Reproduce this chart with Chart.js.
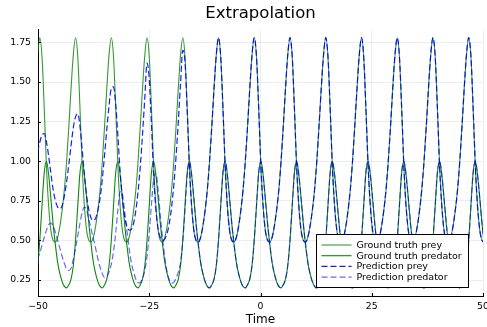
<!DOCTYPE html>
<html lang="en">
<head>
<meta charset="UTF-8">
<title>Extrapolation</title>
<script src="https://cdn.jsdelivr.net/npm/chart.js@4"></script>
<style>
  html, body { margin: 0; padding: 0; background: #fff; }
  #wrap { width: 487px; height: 327px; position: relative; }
</style>
</head>
<body>
<div id="wrap"><canvas id="chart"></canvas></div>
<script>
// time grid (one row = one cycle, 16 samples)
const time = [
  -50.10, -49.60, -49.10, -48.59, -48.09, -47.59, -47.09, -46.59, -46.08, -45.58, -45.08, -44.58, -44.08, -43.57, -43.07, -42.57,
  -42.07, -41.57, -41.06, -40.56, -40.06, -39.56, -39.06, -38.55, -38.05, -37.55, -37.05, -36.55, -36.04, -35.54, -35.04, -34.54,
  -34.04, -33.53, -33.03, -32.53, -32.03, -31.53, -31.02, -30.52, -30.02, -29.52, -29.02, -28.51, -28.01, -27.51, -27.01, -26.51,
  -26.00, -25.50, -25.00, -24.50, -24.00, -23.49, -22.99, -22.49, -21.99, -21.49, -20.98, -20.48, -19.98, -19.48, -18.98, -18.47,
  -17.97, -17.47, -16.97, -16.47, -15.96, -15.46, -14.96, -14.46, -13.96, -13.45, -12.95, -12.45, -11.95, -11.45, -10.94, -10.44,
  -9.94, -9.44, -8.94, -8.43, -7.93, -7.43, -6.93, -6.43, -5.92, -5.42, -4.92, -4.42, -3.92, -3.41, -2.91, -2.41,
  -1.91, -1.41, -0.90, -0.40, 0.10, 0.60, 1.10, 1.61, 2.11, 2.61, 3.11, 3.61, 4.12, 4.62, 5.12, 5.62,
  6.12, 6.63, 7.13, 7.63, 8.13, 8.63, 9.14, 9.64, 10.14, 10.64, 11.14, 11.65, 12.15, 12.65, 13.15, 13.65,
  14.16, 14.66, 15.16, 15.66, 16.16, 16.67, 17.17, 17.67, 18.17, 18.67, 19.18, 19.68, 20.18, 20.68, 21.18, 21.69,
  22.19, 22.69, 23.19, 23.69, 24.20, 24.70, 25.20, 25.70, 26.20, 26.71, 27.21, 27.71, 28.21, 28.71, 29.22, 29.72,
  30.22, 30.72, 31.22, 31.73, 32.23, 32.73, 33.23, 33.73, 34.24, 34.74, 35.24, 35.74, 36.24, 36.75, 37.25, 37.75,
  38.25, 38.75, 39.26, 39.76, 40.26, 40.76, 41.26, 41.77, 42.27, 42.77, 43.27, 43.77, 44.28, 44.78, 45.28, 45.78,
  46.28, 46.79, 47.29, 47.79, 48.29, 48.79, 49.30, 49.80, 50.30
];

const truePrey = [
  1.67, 1.78, 1.66, 1.33, 0.96, 0.71, 0.56, 0.50, 0.49, 0.52, 0.59, 0.69, 0.82, 1.00, 1.22, 1.46,
  1.67, 1.78, 1.66, 1.33, 0.96, 0.71, 0.56, 0.50, 0.49, 0.52, 0.59, 0.69, 0.82, 1.00, 1.22, 1.46,
  1.67, 1.78, 1.66, 1.33, 0.96, 0.71, 0.56, 0.50, 0.49, 0.52, 0.59, 0.69, 0.82, 1.00, 1.22, 1.46,
  1.67, 1.78, 1.66, 1.33, 0.96, 0.71, 0.56, 0.50, 0.49, 0.52, 0.59, 0.69, 0.82, 1.00, 1.22, 1.46,
  1.67, 1.78, 1.66, 1.33, 0.96, 0.71, 0.56, 0.50, 0.49, 0.52, 0.59, 0.69, 0.82, 1.00, 1.22, 1.46,
  1.67, 1.78, 1.66, 1.33, 0.96, 0.71, 0.56, 0.50, 0.49, 0.52, 0.59, 0.69, 0.82, 1.00, 1.22, 1.46,
  1.67, 1.78, 1.66, 1.33, 0.96, 0.71, 0.56, 0.50, 0.49, 0.52, 0.59, 0.69, 0.82, 1.00, 1.22, 1.46,
  1.67, 1.78, 1.66, 1.33, 0.96, 0.71, 0.56, 0.50, 0.49, 0.52, 0.59, 0.69, 0.82, 1.00, 1.22, 1.46,
  1.67, 1.78, 1.66, 1.33, 0.96, 0.71, 0.56, 0.50, 0.49, 0.52, 0.59, 0.69, 0.82, 1.00, 1.22, 1.46,
  1.67, 1.78, 1.66, 1.33, 0.96, 0.71, 0.56, 0.50, 0.49, 0.52, 0.59, 0.69, 0.82, 1.00, 1.22, 1.46,
  1.67, 1.78, 1.66, 1.33, 0.96, 0.71, 0.56, 0.50, 0.49, 0.52, 0.59, 0.69, 0.82, 1.00, 1.22, 1.46,
  1.67, 1.78, 1.66, 1.33, 0.96, 0.71, 0.56, 0.50, 0.49, 0.52, 0.59, 0.69, 0.82, 1.00, 1.22, 1.46,
  1.67, 1.78, 1.66, 1.33, 0.96, 0.71, 0.56, 0.50, 0.49
];

const truePredator = [
  0.34, 0.50, 0.72, 0.93, 1.00, 0.91, 0.76, 0.60, 0.47, 0.36, 0.29, 0.24, 0.21, 0.20, 0.22, 0.255,
  0.34, 0.50, 0.72, 0.93, 1.00, 0.91, 0.76, 0.60, 0.47, 0.36, 0.29, 0.24, 0.21, 0.20, 0.22, 0.255,
  0.34, 0.50, 0.72, 0.93, 1.00, 0.91, 0.76, 0.60, 0.47, 0.36, 0.29, 0.24, 0.21, 0.20, 0.22, 0.255,
  0.34, 0.50, 0.72, 0.93, 1.00, 0.91, 0.76, 0.60, 0.47, 0.36, 0.29, 0.24, 0.21, 0.20, 0.22, 0.255,
  0.34, 0.50, 0.72, 0.93, 1.00, 0.91, 0.76, 0.60, 0.47, 0.36, 0.29, 0.24, 0.21, 0.20, 0.22, 0.255,
  0.34, 0.50, 0.72, 0.93, 1.00, 0.91, 0.76, 0.60, 0.47, 0.36, 0.29, 0.24, 0.21, 0.20, 0.22, 0.255,
  0.34, 0.50, 0.72, 0.93, 1.00, 0.91, 0.76, 0.60, 0.47, 0.36, 0.29, 0.24, 0.21, 0.20, 0.22, 0.255,
  0.34, 0.50, 0.72, 0.93, 1.00, 0.91, 0.76, 0.60, 0.47, 0.36, 0.29, 0.24, 0.21, 0.20, 0.22, 0.255,
  0.34, 0.50, 0.72, 0.93, 1.00, 0.91, 0.76, 0.60, 0.47, 0.36, 0.29, 0.24, 0.21, 0.20, 0.22, 0.255,
  0.34, 0.50, 0.72, 0.93, 1.00, 0.91, 0.76, 0.60, 0.47, 0.36, 0.29, 0.24, 0.21, 0.20, 0.22, 0.255,
  0.34, 0.50, 0.72, 0.93, 1.00, 0.91, 0.76, 0.60, 0.47, 0.36, 0.29, 0.24, 0.21, 0.20, 0.22, 0.255,
  0.34, 0.50, 0.72, 0.93, 1.00, 0.91, 0.76, 0.60, 0.47, 0.36, 0.29, 0.24, 0.21, 0.20, 0.22, 0.255,
  0.34, 0.50, 0.72, 0.93, 1.00, 0.91, 0.76, 0.60, 0.47
];

const predPrey = [
  1.06, 1.12, 1.165, 1.175, 1.12, 1.03, 0.92, 0.82, 0.75, 0.71, 0.70, 0.72, 0.78, 0.87, 0.98, 1.10,
  1.21, 1.28, 1.30, 1.22, 1.07, 0.91, 0.78, 0.69, 0.64, 0.625, 0.64, 0.69, 0.77, 0.89, 1.04, 1.20,
  1.35, 1.46, 1.47, 1.36, 1.15, 0.93, 0.76, 0.65, 0.59, 0.565, 0.57, 0.61, 0.69, 0.81, 0.97, 1.17,
  1.40, 1.62, 1.52, 1.23, 0.91, 0.69, 0.57, 0.515, 0.50, 0.51, 0.545, 0.61, 0.71, 0.85, 1.03, 1.25,
  1.49, 1.70, 1.63, 1.32, 0.96, 0.71, 0.56, 0.50, 0.49, 0.52, 0.59, 0.69, 0.82, 1.00, 1.22, 1.46,
  1.67, 1.78, 1.66, 1.33, 0.96, 0.71, 0.56, 0.50, 0.49, 0.52, 0.59, 0.69, 0.82, 1.00, 1.22, 1.46,
  1.67, 1.78, 1.66, 1.33, 0.96, 0.71, 0.56, 0.50, 0.49, 0.52, 0.59, 0.69, 0.82, 1.00, 1.22, 1.46,
  1.67, 1.78, 1.66, 1.33, 0.96, 0.71, 0.56, 0.50, 0.49, 0.52, 0.59, 0.69, 0.82, 1.00, 1.22, 1.46,
  1.67, 1.78, 1.66, 1.33, 0.96, 0.71, 0.56, 0.50, 0.49, 0.52, 0.59, 0.69, 0.82, 1.00, 1.22, 1.46,
  1.67, 1.78, 1.66, 1.33, 0.96, 0.71, 0.56, 0.50, 0.49, 0.52, 0.59, 0.69, 0.82, 1.00, 1.22, 1.46,
  1.67, 1.78, 1.66, 1.33, 0.96, 0.71, 0.56, 0.50, 0.49, 0.52, 0.59, 0.69, 0.82, 1.00, 1.22, 1.46,
  1.67, 1.78, 1.66, 1.33, 0.96, 0.71, 0.56, 0.50, 0.49, 0.52, 0.59, 0.69, 0.82, 1.00, 1.22, 1.46,
  1.67, 1.78, 1.66, 1.33, 0.96, 0.71, 0.56, 0.50, 0.49
];

const predPredator = [
  0.38, 0.42, 0.47, 0.52, 0.565, 0.60, 0.61, 0.59, 0.55, 0.50, 0.45, 0.40, 0.355, 0.32, 0.31, 0.325,
  0.38, 0.45, 0.53, 0.61, 0.68, 0.71, 0.69, 0.63, 0.57, 0.51, 0.45, 0.385, 0.33, 0.29, 0.265, 0.27,
  0.30, 0.35, 0.43, 0.55, 0.70, 0.81, 0.79, 0.68, 0.56, 0.45, 0.36, 0.30, 0.255, 0.232, 0.235, 0.26,
  0.31, 0.40, 0.55, 0.73, 0.89, 0.92, 0.81, 0.65, 0.51, 0.39, 0.30, 0.25, 0.23, 0.235, 0.26, 0.30,
  0.36, 0.49, 0.69, 0.91, 1.00, 0.91, 0.76, 0.60, 0.47, 0.36, 0.29, 0.24, 0.21, 0.20, 0.22, 0.255,
  0.34, 0.50, 0.72, 0.93, 1.00, 0.91, 0.76, 0.60, 0.47, 0.36, 0.29, 0.24, 0.21, 0.20, 0.22, 0.255,
  0.34, 0.50, 0.72, 0.93, 1.00, 0.91, 0.76, 0.60, 0.47, 0.36, 0.29, 0.24, 0.21, 0.20, 0.22, 0.255,
  0.34, 0.50, 0.72, 0.93, 1.00, 0.91, 0.76, 0.60, 0.47, 0.36, 0.29, 0.24, 0.21, 0.20, 0.22, 0.255,
  0.34, 0.50, 0.72, 0.93, 1.00, 0.91, 0.76, 0.60, 0.47, 0.36, 0.29, 0.24, 0.21, 0.20, 0.22, 0.255,
  0.34, 0.50, 0.72, 0.93, 1.00, 0.91, 0.76, 0.60, 0.47, 0.36, 0.29, 0.24, 0.21, 0.20, 0.22, 0.255,
  0.34, 0.50, 0.72, 0.93, 1.00, 0.91, 0.76, 0.60, 0.47, 0.36, 0.29, 0.24, 0.21, 0.20, 0.22, 0.255,
  0.34, 0.50, 0.72, 0.93, 1.00, 0.91, 0.76, 0.60, 0.47, 0.36, 0.29, 0.24, 0.21, 0.20, 0.22, 0.255,
  0.34, 0.50, 0.72, 0.93, 1.00, 0.91, 0.76, 0.60, 0.47
];

const xTicks = [-50, -25, 0, 25, 50];
const xTickLabels = ['\u221250', '\u221225', '0', '25', '50'];
const yTicks = [0.25, 0.5, 0.75, 1.0, 1.25, 1.5, 1.75];
const yTickLabels = ['0.25', '0.50', '0.75', '1.00', '1.25', '1.50', '1.75'];

Chart.defaults.font.family = '"DejaVu Sans", sans-serif';
Chart.defaults.color = '#000';

const pts = vals => time.map((t, i) => ({ x: t, y: vals[i] }));

const line = (label, vals, color, width, dash, order) => ({
  label, data: pts(vals), borderColor: color, borderWidth: width, borderDash: dash,
  pointRadius: 0, fill: false, cubicInterpolationMode: 'monotone', order
});

// ticks on the inside of the frame + legend box in the lower right
const extras = {
  id: 'extras',
  afterDraw(chart) {
    const { ctx, chartArea: a, scales: { x, y } } = chart;
    ctx.save();
    ctx.strokeStyle = '#000';
    ctx.lineWidth = 1;
    ctx.beginPath();
    xTicks.forEach(v => {
      const px = Math.round(x.getPixelForValue(v)) + 0.5;
      ctx.moveTo(px, a.bottom); ctx.lineTo(px, a.bottom - 3);
    });
    yTicks.forEach(v => {
      const py = Math.round(y.getPixelForValue(v)) + 0.5;
      ctx.moveTo(a.left, py); ctx.lineTo(a.left + 3, py);
    });
    ctx.stroke();

    const bx = 316.5, by = 234.5, bw = 152, bh = 53;
    ctx.fillStyle = '#fff';
    ctx.fillRect(bx, by, bw, bh);
    ctx.strokeRect(bx, by, bw, bh);
    ctx.font = '9.5px "DejaVu Sans"';
    ctx.textBaseline = 'middle';
    ctx.textAlign = 'left';
    chart.data.datasets.forEach((ds, i) => {
      const ly = by + 10.5 + i * 10.7;
      ctx.strokeStyle = ds.borderColor;
      ctx.lineWidth = ds.borderWidth;
      ctx.setLineDash(ds.borderDash || []);
      ctx.beginPath();
      ctx.moveTo(bx + 5, ly); ctx.lineTo(bx + 35, ly);
      ctx.stroke();
      ctx.setLineDash([]);
      ctx.fillStyle = '#000';
      ctx.fillText(ds.label, bx + 40, ly + 0.5);
    });
    ctx.restore();
  }
};

new Chart(document.getElementById('chart'), {
  type: 'line',
  data: {
    datasets: [
      line('Ground truth prey', truePrey, 'rgba(0,128,0,0.8)', 1.1, [], 4),
      line('Ground truth predator', truePredator, 'rgba(0,128,0,0.95)', 1.1, [], 3),
      line('Prediction prey', predPrey, 'rgba(0,0,255,0.9)', 1.2, [6, 3], 2),
      line('Prediction predator', predPredator, 'rgba(0,0,255,0.6)', 1.2, [6, 3], 1)
    ]
  },
  options: {
    responsive: true,
    maintainAspectRatio: false,
    animation: false,
    layout: { padding: { left: 0, right: 4, top: 0, bottom: 0 } },
    plugins: {
      legend: { display: false },
      tooltip: { enabled: false },
      title: {
        display: true, text: 'Extrapolation', fullSize: false, color: '#000',
        font: { size: 16.5, weight: 'normal' }, padding: { top: 4, bottom: 6 }
      }
    },
    scales: {
      x: {
        type: 'linear', min: -50, max: 50,
        afterBuildTicks: s => { s.ticks = xTicks.map(v => ({ value: v })); },
        afterFit: s => { s.height = 31; s.paddingLeft = 0; s.paddingRight = 0; },
        ticks: { callback: v => xTickLabels[xTicks.indexOf(v)], maxRotation: 0, padding: 5, font: { size: 9.3 }, color: '#000' },
        grid: { color: 'rgba(0,0,0,0.07)', drawTicks: false },
        border: { display: true, color: '#000', width: 1 },
        title: { display: true, text: 'Time', font: { size: 12 }, padding: { top: 0, bottom: 0 }, color: '#000' }
      },
      y: {
        type: 'linear', min: 0.149, max: 1.83,
        afterBuildTicks: s => { s.ticks = yTicks.map(v => ({ value: v })); },
        afterFit: s => { s.width = 38; s.paddingTop = 0; s.paddingBottom = 0; },
        ticks: { callback: v => yTickLabels[yTicks.indexOf(v)], padding: 7, font: { size: 9.3 }, color: '#000' },
        grid: { color: 'rgba(0,0,0,0.07)', drawTicks: false },
        border: { display: true, color: '#000', width: 1 }
      }
    }
  },
  plugins: [extras]
});
</script>
</body>
</html>
